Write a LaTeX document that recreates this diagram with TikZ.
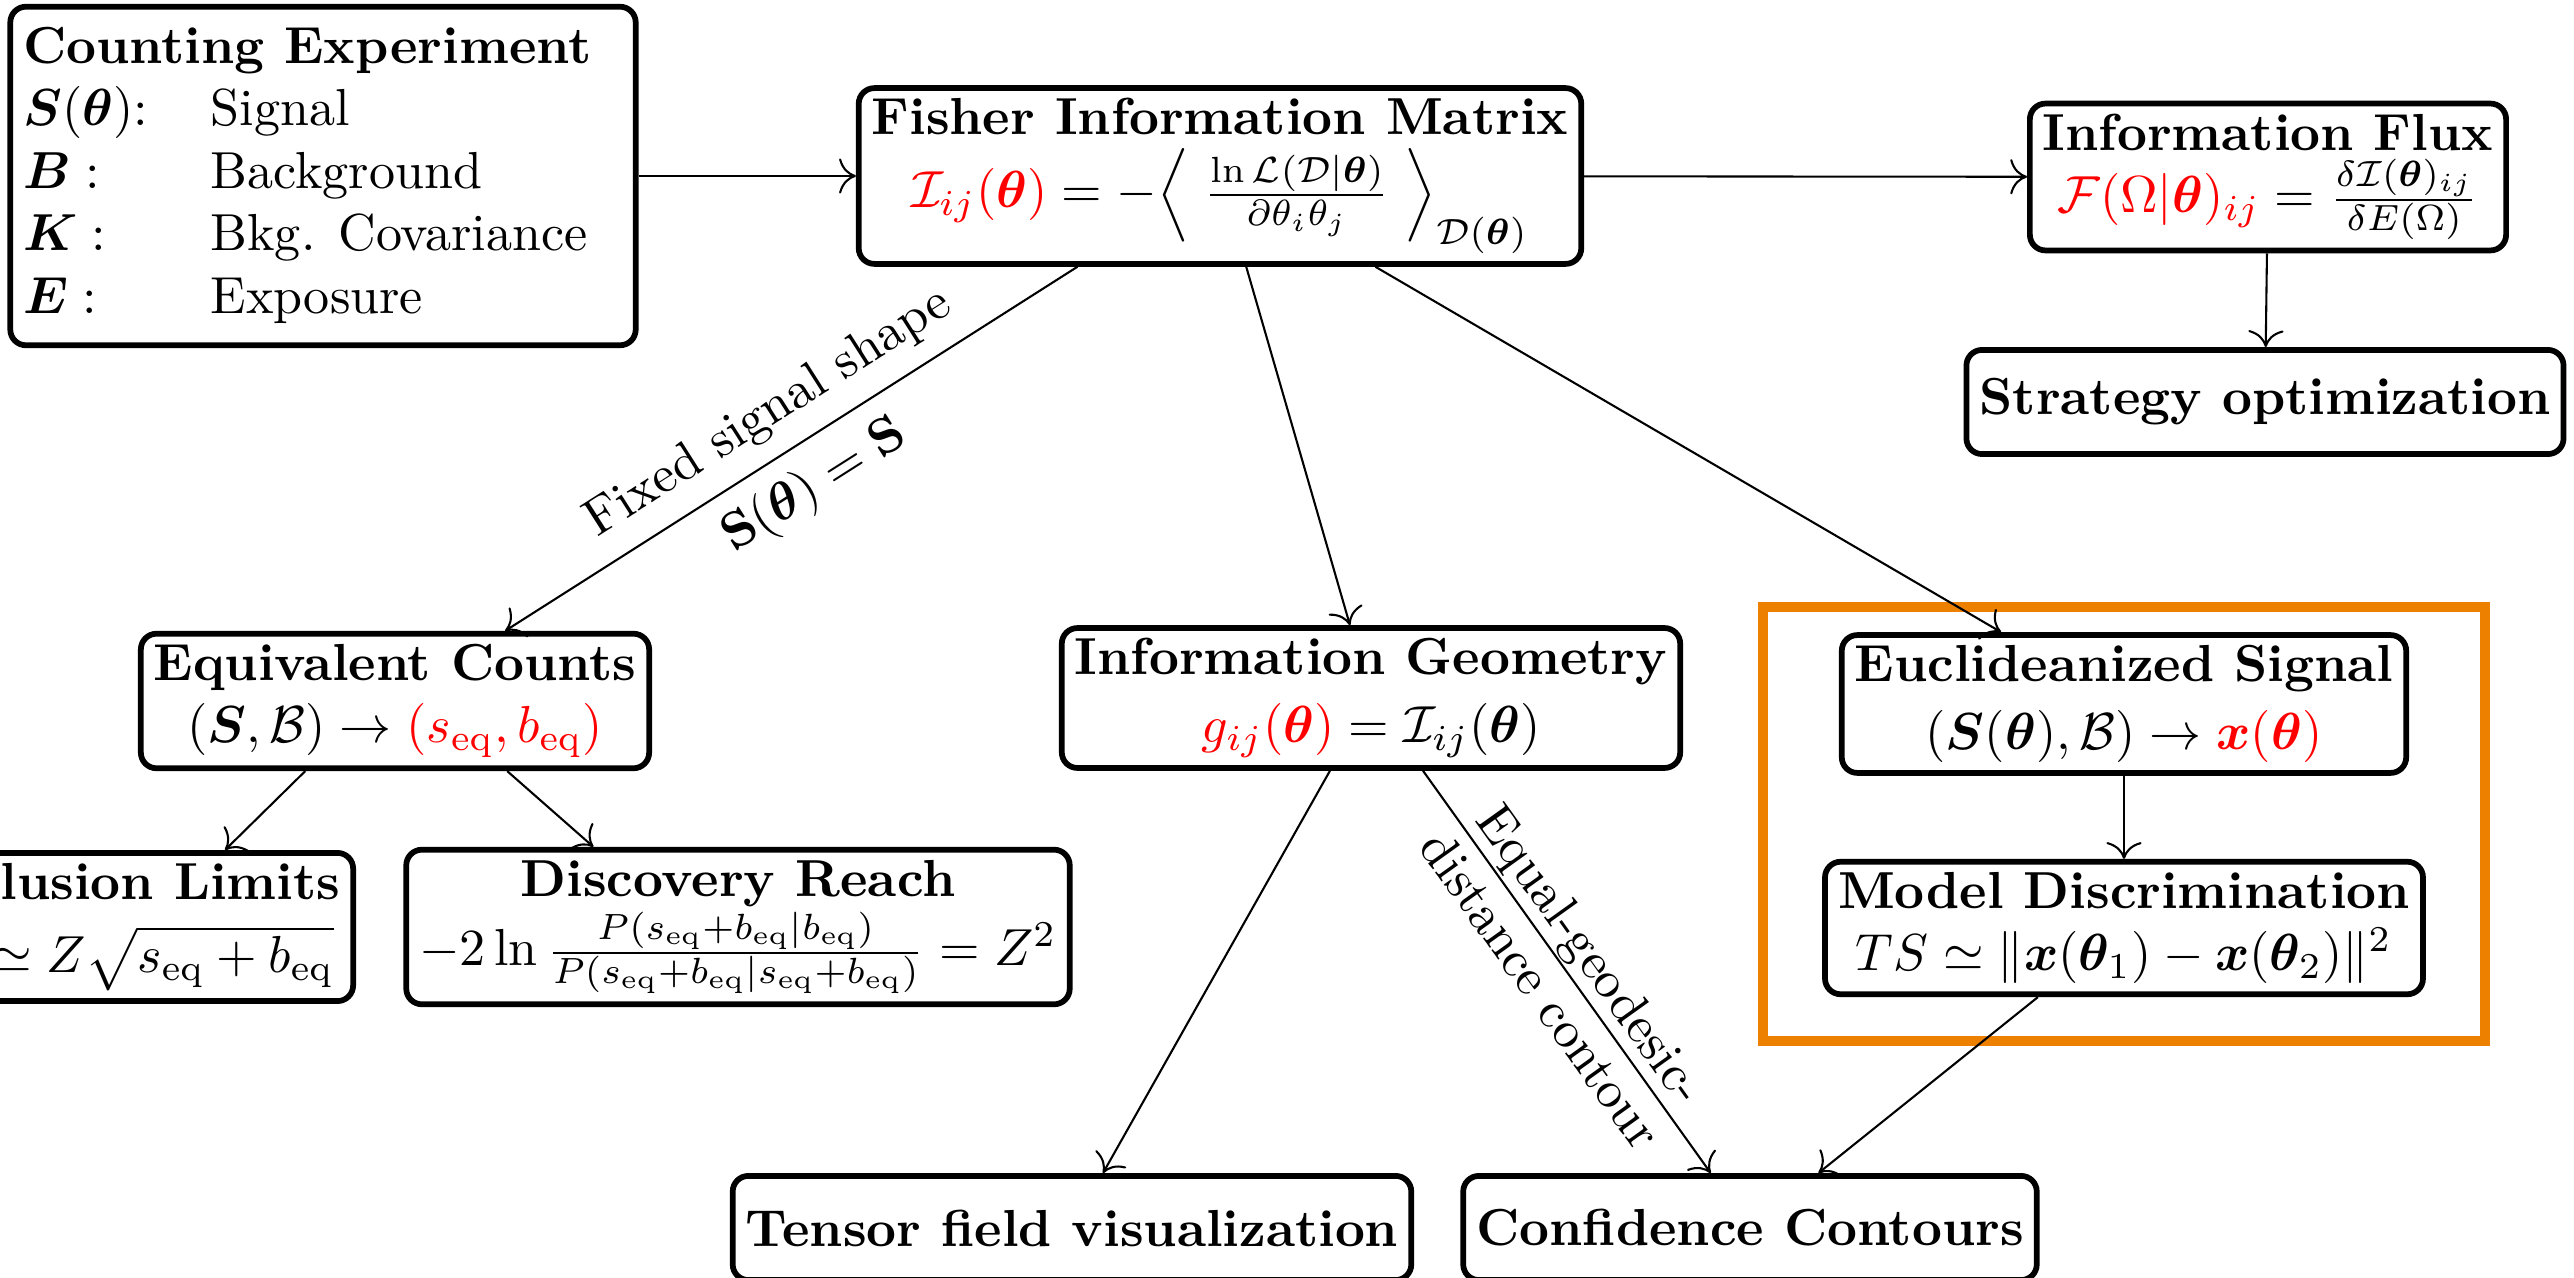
\documentclass[tikz,border=0pt]{standalone}
\usepackage{amsmath,amssymb,bm}
\usetikzlibrary{arrows.meta,calc}
\definecolor{borange}{RGB}{238,128,0}
\newcommand{\eqs}{_{\mathrm{eq}}}
\begin{document}
\begin{tikzpicture}[x=0.192pt,y=-0.192pt,
  box/.style={draw,line width=1.1pt,rounded corners=3pt,align=center,inner xsep=2.5pt,inner ysep=2pt,fill=white},
  onebox/.style={box,minimum height=20pt},
  arr/.style={-{To[scale=1.3]},line width=0.4pt}]
\useasboundingbox (0,0) rectangle (2574,1278);
\clip (0,0) rectangle (2574,1278);
\draw[borange,line width=2pt] (1763,607) rectangle (2485,1041);

\node[box,align=left,inner ysep=2.5pt] (count) at (323,176) {\begin{tabular}{@{}ll@{}}
\multicolumn{2}{@{}l}{\textbf{Counting Experiment}}\\
$\bm{S}(\bm{\theta})$: & Signal\\
$\bm{B}:$ & Background\\
$\bm{K}:$ & Bkg. Covariance\\
$\bm{E}:$ & Exposure
\end{tabular}};

\node[box] (fisher) at (1220,176) {\textbf{Fisher Information Matrix}\\[2pt]
$\color{red}\mathcal{I}_{ij}(\bm\theta)\color{black} = -\Big\langle\;\frac{\ln\mathcal{L}(\mathcal{D}|\bm\theta)}{\partial\theta_i\theta_j}\;\Big\rangle_{\mathcal{D}(\bm\theta)}$};

\node[box] (flux) at (2268,177) {\textbf{Information Flux}\\
$\color{red}\mathcal{F}(\Omega|\bm\theta)_{ij}\color{black} = \frac{\delta\mathcal{I}(\bm\theta)_{ij}}{\delta E(\Omega)}$};

\node[onebox] (strat) at (2265,402) {\textbf{Strategy optimization}};

\node[box] (equiv) at (395,701) {\textbf{Equivalent Counts}\\
$(\bm{S},\mathcal{B}) \to \color{red}(s\eqs, b\eqs)$};

\node[box,anchor=east] (excl) at (356,927) {\textbf{Exclusion Limits}\\[2pt]
$s\eqs \simeq Z\sqrt{s\eqs + b\eqs}$};

\node[box] (disc) at (738,927) {\textbf{Discovery Reach}\\
$-2\ln\frac{P(s\eqs+b\eqs|b\eqs)}{P(s\eqs+b\eqs|s\eqs+b\eqs)} = Z^2$};

\node[box] (geo) at (1371,698) {\textbf{Information Geometry}\\[1pt]
$\color{red}g_{ij}(\bm\theta)\color{black} = \mathcal{I}_{ij}(\bm\theta)$};

\node[box] (eucl) at (2124,704) {\textbf{Euclideanized Signal}\\[1pt]
$(\bm{S}(\bm\theta),\mathcal{B}) \to \color{red}\bm{x}(\bm\theta)$};

\node[box] (model) at (2124,928) {\textbf{Model Discrimination}\\
$TS \simeq \|\bm{x}(\bm\theta_1) - \bm{x}(\bm\theta_2)\|^2$};

\node[onebox] (tensor) at (1072,1228) {\textbf{Tensor field visualization}};
\node[onebox] (conf) at (1750,1228) {\textbf{Confidence Contours}};

\draw[arr] (count) -- (fisher);
\draw[arr] (fisher) -- (flux);
\draw[arr] (flux) -- (strat);
\draw[arr] (fisher) -- node[sloped,above]{Fixed signal shape}
  node[sloped,below]{$\mathbf{S}(\bm\theta)=\mathbf{S}$} (equiv);
\draw[arr] (fisher) -- (geo);
\draw[arr] (fisher) -- (eucl);
\draw[arr] (equiv.218) -- ($(excl.north east)+(-131,0)$);
\draw[arr] (equiv.-32) -- (disc.151);
\draw[arr] (geo) -- (tensor);
\draw[arr] (geo) -- node[sloped,align=center]{Equal-geodesic-\\distance contour} (conf);
\draw[arr] (eucl) -- (model);
\draw[arr] (model) -- (conf);
\end{tikzpicture}
\end{document}
